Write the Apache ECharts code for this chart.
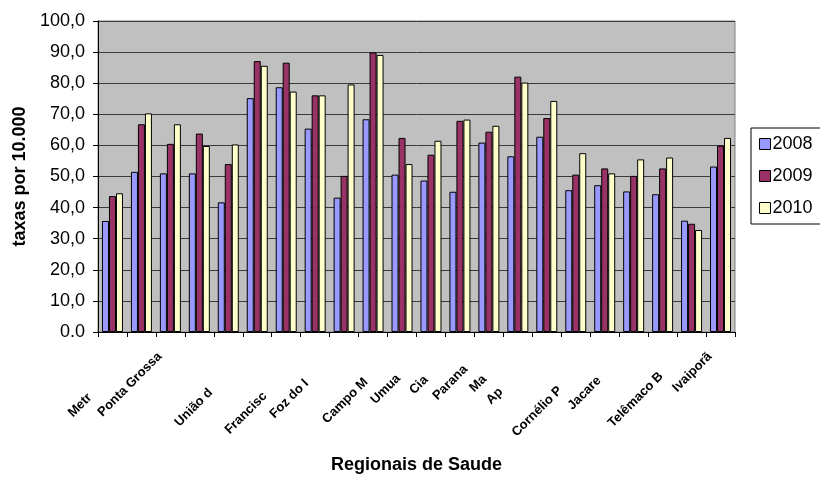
<!DOCTYPE html>
<html>
<head>
<meta charset="utf-8">
<script src="https://cdn.jsdelivr.net/npm/echarts@6/dist/echarts.min.js"></script>
<style>
  html, body { margin: 0; padding: 0; background: #ffffff; }
  #chart { width: 820px; height: 477px; }
</style>
</head>
<body>
<div id="chart"></div>
<script>
// ---- data ----
const regionais = ['Paranaguá','Metropolitana','Ponta Grossa','Irati','Guarapuava','União da Vitória','Pato Branco','Francisco Beltrão','Foz do Iguaçu','Cascavel','Campo Mourão','Umuarama','Cianorte','Paranavaí','Maringá','Apucarana','Londrina','Cornélio Procópio','Jacarezinho','Toledo','Telêmaco Borba','Ivaiporã'];
const rotulosVisiveis = ['', 'Metr', 'Ponta Grossa', '', '', 'União d', '', 'Francisc', 'Foz do I', '', 'Campo M', 'Umua', 'Cia', 'Parana', 'Ma', 'Ap', '', 'Cornélio P', 'Jacare', '', 'Telêmaco B', 'Ivaiporã'];
const anos = ['2008', '2009', '2010'];
const taxas2008 = [35.7, 51.5, 51.0, 51.0, 41.7, 75.2, 78.7, 65.4, 43.2, 68.4, 50.6, 48.7, 45.1, 60.9, 56.5, 62.8, 45.6, 47.2, 45.2, 44.3, 35.8, 53.2];
const taxas2009 = [43.7, 66.8, 60.5, 63.8, 54.0, 87.1, 86.6, 76.1, 50.2, 89.9, 62.4, 57.0, 67.9, 64.4, 82.1, 68.8, 50.6, 52.6, 50.2, 52.6, 34.8, 59.9];
const taxas2010 = [44.6, 70.3, 66.8, 59.8, 60.3, 85.6, 77.3, 76.1, 79.6, 89.1, 54.0, 61.5, 68.3, 66.3, 80.2, 74.3, 57.5, 51.0, 55.5, 56.1, 32.8, 62.4];
const rotulosY = ['0.0', '10,0', '20,0', '30,0', '40,0', '50,0', '60,0', '70,0', '80,0', '90,0', '100,0'];
const tituloY = 'taxas por 10.000';
const tituloX = 'Regionais de Saude';

// ---- styling ----
const FONT = '"Liberation Sans", Arial, sans-serif';
const cores = ['#9999FF', '#993366', '#FFFFCC'];
const labelFontSize = 13;
const labelExtraPad = 15;

const measureCtx = document.createElement('canvas').getContext('2d');
measureCtx.font = 'bold ' + labelFontSize + 'px ' + FONT;
const rich = {};
regionais.forEach(function (nome, i) {
  const vis = rotulosVisiveis[i];
  const resto = vis ? nome.slice(vis.length) : '';
  const w = Math.round(measureCtx.measureText(resto).width) + labelExtraPad;
  rich['p' + i] = {
    fontFamily: FONT, fontWeight: 'bold', fontSize: labelFontSize, color: '#000',
    padding: [0, w, 0, 0]
  };
});

const seriesData = [taxas2008, taxas2009, taxas2010];
const chart = echarts.init(document.getElementById('chart'), null, { renderer: 'canvas' });
chart.setOption({
  backgroundColor: '#ffffff',
  animation: false,
  textStyle: { fontFamily: FONT },
  grid: {
    left: 98, right: 85, top: 21, bottom: 145,
    containLabel: false,
    outerBoundsMode: 'none',
    show: true, backgroundColor: '#C0C0C0', borderColor: '#808080', borderWidth: 1
  },
  legend: {
    orient: 'vertical',
    left: 751, top: 128,
    padding: [7, 22, 7, 8],
    itemGap: 14,
    itemWidth: 11, itemHeight: 11,
    icon: 'rect',
    borderColor: '#000', borderWidth: 1,
    backgroundColor: '#fff',
    itemStyle: { borderColor: '#000', borderWidth: 1 },
    textStyle: { fontFamily: FONT, fontSize: 18, color: '#000', padding: [0, 0, 0, -3] },
    data: anos
  },
  xAxis: {
    type: 'category',
    data: regionais,
    name: tituloX,
    nameLocation: 'middle',
    nameGap: 124,
    nameTextStyle: { fontFamily: FONT, fontWeight: 'bold', fontSize: 18, color: '#000' },
    axisLine: { lineStyle: { color: '#000', width: 1 } },
    axisTick: { show: true, length: 5, lineStyle: { color: '#000' } },
    axisLabel: {
      interval: 0,
      rotate: 45,
      margin: 12,
      formatter: function (value, index) {
        const vis = rotulosVisiveis[index];
        if (!vis) return '';
        return '{p' + index + '|' + vis + '}';
      },
      rich: rich
    }
  },
  yAxis: {
    type: 'value',
    min: 0, max: 100, interval: 10,
    name: tituloY,
    nameLocation: 'middle',
    nameRotate: 90,
    nameGap: 64,
    nameTextStyle: { fontFamily: FONT, fontWeight: 'bold', fontSize: 18, color: '#000' },
    axisLine: { show: true, lineStyle: { color: '#000', width: 1 } },
    axisTick: { show: true, length: 5, lineStyle: { color: '#000' } },
    axisLabel: {
      margin: 13,
      fontFamily: FONT, fontSize: 18, color: '#000',
      formatter: function (v) { return rotulosY[Math.round(v / 10)]; }
    },
    splitLine: { show: true, lineStyle: { color: '#3a3a3a', width: 1 } }
  },
  series: anos.map(function (ano, k) {
    return {
      name: ano,
      type: 'bar',
      data: seriesData[k],
      barWidth: 7,
      barGap: '0%',
      itemStyle: { color: cores[k], borderColor: '#000', borderWidth: 1 }
    };
  })
});
</script>
</body>
</html>
